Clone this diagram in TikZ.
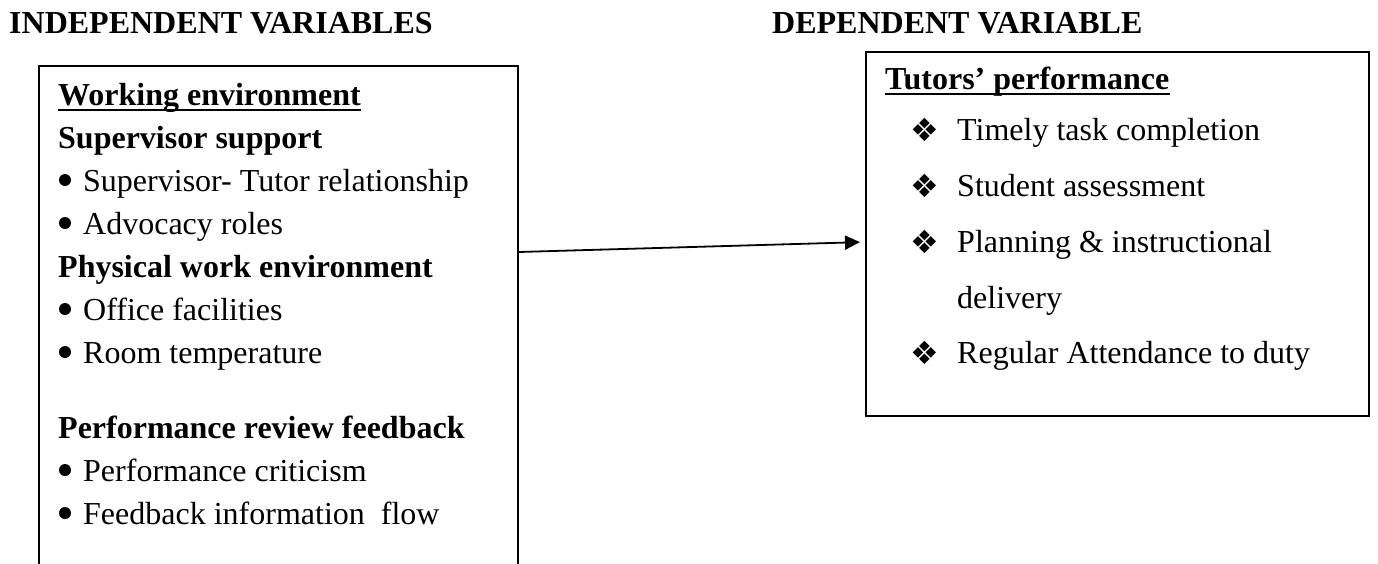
\documentclass[tikz,border=0pt]{standalone}
\usepackage{fontspec}
\setmainfont{Liberation Serif}
\newfontfamily\dejavu{DejaVu Sans}
\usetikzlibrary{arrows.meta}
\newcommand{\dia}{{\dejavu\fontsize{32}{32}\selectfont ❖}}
\begin{document}
\begin{tikzpicture}[x=1pt,y=-1pt,
  txt/.style={anchor=base west,inner sep=0pt,font=\fontsize{32}{38}\selectfont},
  btxt/.style={anchor=base west,inner sep=0pt,font=\fontsize{32}{38}\selectfont\bfseries},
  boxline/.style={draw,line width=1.6pt,inner sep=0pt,anchor=north west},
  ul/.style={line width=2.6pt},
  bul/.style={circle,fill,inner sep=0pt,minimum size=12pt},
  dia/.style={anchor=base west,inner sep=0pt}]
\useasboundingbox[fill=white] (0,0) rectangle (1378,563);
\clip (0,0) rectangle (1378,563);
% headers
\node[btxt] (h1) at (9,33) {INDEPENDENT VARIABLES};
\node[btxt] (h2) at (772,33) {DEPENDENT VARIABLE};
% boxes
\node[boxline,minimum width=479pt,minimum height=560pt] (lbox) at (38,65) {};
\node[boxline,minimum width=503pt,minimum height=364pt] (rbox) at (865,51) {};
% left box contents
\node[btxt] (we) at (58,105) {Working environment};
\draw[ul] ([yshift=-5pt]we.base west) -- ([yshift=-5pt]we.base east);
\node[btxt] (ss) at (58,148) {Supervisor support};
\node[bul] (b1) at (65,180) {};
\node[txt] (t1) at (83,191) {Supervisor- Tutor relationship};
\node[bul] (b2) at (65,223) {};
\node[txt] (t2) at (83,234) {Advocacy roles};
\node[btxt] (pw) at (58,277) {Physical work environment};
\node[bul] (b3) at (65,309) {};
\node[txt] (t3) at (83,320) {Office facilities};
\node[bul] (b4) at (65,352) {};
\node[txt] (t4) at (83,363) {Room temperature};
\node[btxt] (pr) at (58,438) {Performance review feedback};
\node[bul] (b5) at (65,470) {};
\node[txt] (t5) at (83,481) {Performance criticism};
\node[bul] (b6) at (65,513) {};
\node[txt] (t6) at (83,524) {Feedback information\ \ flow};
% right box contents
\node[btxt] (tp) at (885,89) {Tutors’ performance};
\draw[ul] ([yshift=-5pt]tp.base west) -- ([yshift=-5pt]tp.base east);
\node[dia] (d1) at (910,141) {\dia};
\node[txt] (r1) at (957,140) {Timely task completion};
\node[dia] (d2) at (910,197) {\dia};
\node[txt] (r2) at (957,196) {Student assessment};
\node[dia] (d3) at (910,253) {\dia};
\node[txt] (r3) at (957,252) {Planning \& instructional};
\node[txt] (r3b) at (957,308) {delivery};
\node[dia] (d4) at (910,364) {\dia};
\node[txt] (r4) at (957,363) {Regular Attendance to duty};
% connector
\coordinate (as) at (lbox.east |- 0,252);
\coordinate (ae) at (rbox.west |- 0,242);
\draw[line width=1.8pt,-{Triangle[length=15pt,width=14pt]},shorten >=5pt] (as) -- (ae);
\end{tikzpicture}
\end{document}
